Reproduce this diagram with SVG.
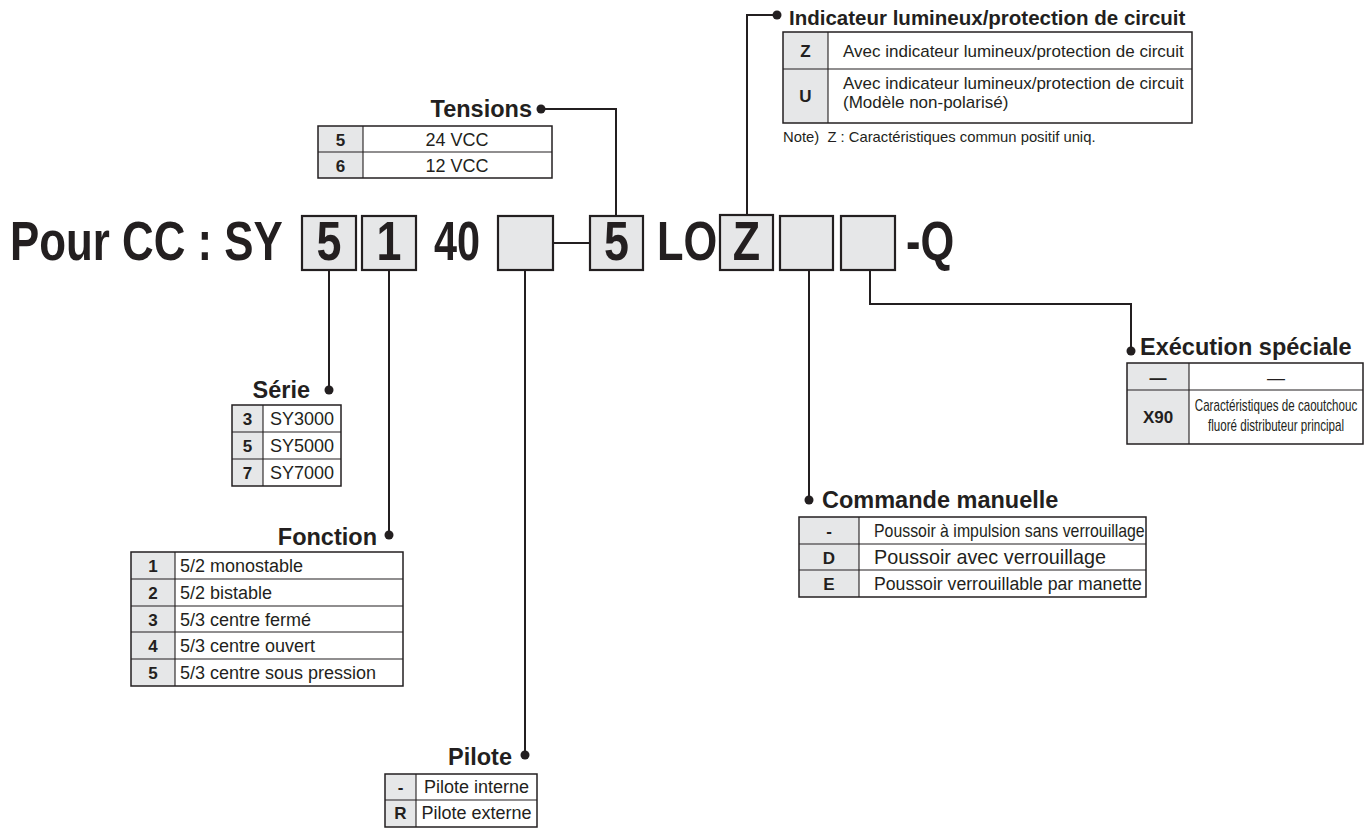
<svg xmlns="http://www.w3.org/2000/svg" width="1372" height="828" viewBox="0 0 1372 828">
<style>
text{font-family:"Liberation Sans",Arial,Helvetica,sans-serif;fill:#231f20}
.t{font-size:56px;font-weight:bold}
.h{font-size:23.5px;font-weight:bold}
.c{font-size:17px;font-weight:bold;text-anchor:middle}
.v{font-size:18px}
.s{font-size:17px}
.m{text-anchor:middle}
.e{text-anchor:end}
.box{fill:#e6e7e8;stroke:#231f20;stroke-width:2.2}
.tb{fill:none;stroke:#231f20;stroke-width:1.5}
.g{fill:#e6e7e8}
.ln{stroke:#231f20;stroke-width:1.1;fill:none}
.cn{stroke:#231f20;stroke-width:2;fill:none}
.dot{fill:#231f20}
</style>
<rect width="1372" height="828" fill="#fff"/>

<g id="connectors">
<path class="cn" d="M616 216V109H541"/>
<circle class="dot" cx="541" cy="109" r="4.5"/>
<path class="cn" d="M747 215V15H777"/>
<circle class="dot" cx="777" cy="15" r="4.5"/>
<path class="cn" d="M329 270V390"/>
<circle class="dot" cx="329" cy="390" r="4.5"/>
<path class="cn" d="M389 270V535"/>
<circle class="dot" cx="389" cy="535" r="4.5"/>
<path class="cn" d="M525 270V755"/>
<circle class="dot" cx="525" cy="755" r="4.5"/>
<path class="cn" d="M809 270V500"/>
<circle class="dot" cx="809" cy="500" r="4.5"/>
<path class="cn" d="M870 270V304H1131V351"/>
<circle class="dot" cx="1131" cy="351" r="4.5"/>
<path class="cn" d="M553 243H590" stroke-width="2.4"/>
</g>

<g id="code">
<text class="t" transform="translate(10,260) scale(0.783,1)">Pour CC : SY</text>
<text class="t" transform="translate(434,260) scale(0.74,1)">40</text>
<text class="t" transform="translate(657,260) scale(0.775,1)">LO</text>
<text class="t" transform="translate(906,260) scale(0.775,1)">-Q</text>
</g>
<g id="box-serie">
<rect class="box" x="302" y="216" width="54" height="54"/>
<text class="t m" transform="translate(329,260) scale(0.8,1)">5</text>
</g>
<g id="box-fonction">
<rect class="box" x="362" y="216" width="54" height="54"/>
<text class="t m" transform="translate(389,260) scale(0.8,1)">1</text>
</g>
<g id="box-pilote">
<rect class="box" x="498" y="216" width="55" height="54"/>
</g>
<g id="box-tension">
<rect class="box" x="590" y="216" width="53" height="54"/>
<text class="t m" transform="translate(616.5,260) scale(0.8,1)">5</text>
</g>
<g id="box-indicateur">
<rect class="box" x="720" y="215" width="53" height="55"/>
<text class="t m" transform="translate(746.5,260) scale(0.8,1)">Z</text>
</g>
<g id="box-commande">
<rect class="box" x="780" y="216" width="53" height="54"/>
</g>
<g id="box-execution">
<rect class="box" x="841" y="216" width="54" height="54"/>
</g>

<g id="tensions">
<text class="h e" x="532" y="117">Tensions</text>
<rect class="g" x="318" y="126" width="45" height="52"/>
<path class="ln" d="M363 126V178M318 152H552"/>
<rect class="tb" x="318" y="126" width="234" height="52"/>
<text class="c" x="340.5" y="146">5</text>
<text class="v m" x="457" y="146">24 VCC</text>
<text class="c" x="340.5" y="172">6</text>
<text class="v m" x="457" y="172">12 VCC</text>
</g>

<g id="indicateur">
<text x="789" y="25" font-size="20.5" font-weight="bold">Indicateur lumineux/protection de circuit</text>
<rect class="g" x="783" y="32" width="45" height="91"/>
<path class="ln" d="M828 32V123M783 69H1192"/>
<rect class="tb" x="783" y="32" width="409" height="91"/>
<text class="c" x="805.5" y="57">Z</text>
<text class="s" x="843" y="57">Avec indicateur lumineux/protection de circuit</text>
<text class="c" x="805.5" y="102">U</text>
<text class="s" x="843" y="89">Avec indicateur lumineux/protection de circuit</text>
<text class="s" x="843" y="108">(Modèle non-polarisé)</text>
<text x="783" y="142" font-size="14.8" xml:space="preserve">Note)  Z : Caractéristiques commun positif uniq.</text>
</g>

<g id="serie">
<text class="h e" x="310" y="398">Série</text>
<rect class="g" x="232" y="405" width="31" height="81"/>
<path class="ln" d="M263 405V486M232 432H341M232 459H341"/>
<rect class="tb" x="232" y="405" width="109" height="81"/>
<text class="c" x="247.5" y="425">3</text>
<text class="v m" x="302" y="425">SY3000</text>
<text class="c" x="247.5" y="452">5</text>
<text class="v m" x="302" y="452">SY5000</text>
<text class="c" x="247.5" y="479">7</text>
<text class="v m" x="302" y="479">SY7000</text>
</g>

<g id="fonction">
<text class="h e" x="377" y="545">Fonction</text>
<rect class="g" x="131" y="552" width="44" height="134"/>
<path class="ln" d="M175 552V686M131 579H403M131 606H403M131 632H403M131 659H403"/>
<rect class="tb" x="131" y="552" width="272" height="134"/>
<text class="c" x="153" y="572">1</text>
<text class="v" x="180" y="572">5/2 monostable</text>
<text class="c" x="153" y="599">2</text>
<text class="v" x="180" y="599">5/2 bistable</text>
<text class="c" x="153" y="626">3</text>
<text class="v" x="180" y="626">5/3 centre fermé</text>
<text class="c" x="153" y="652">4</text>
<text class="v" x="180" y="652">5/3 centre ouvert</text>
<text class="c" x="153" y="679">5</text>
<text class="v" x="180" y="679">5/3 centre sous pression</text>
</g>

<g id="pilote">
<text class="h e" x="512" y="765">Pilote</text>
<rect class="g" x="385" y="774" width="31" height="53"/>
<path class="ln" d="M416 774V827M385 800H537"/>
<rect class="tb" x="385" y="774" width="152" height="53"/>
<text class="c" x="400.5" y="793">-</text>
<text class="v m" x="476.5" y="793">Pilote interne</text>
<text class="c" x="400.5" y="819">R</text>
<text class="v m" x="476.5" y="819">Pilote externe</text>
</g>

<g id="commande">
<text class="h" x="822" y="508" font-size="23.9">Commande manuelle</text>
<rect class="g" x="799" y="517" width="60" height="80"/>
<path class="ln" d="M859 517V597M799 544H1146M799 570H1146"/>
<rect class="tb" x="799" y="517" width="347" height="80"/>
<text class="c" x="829" y="537">-</text>
<text font-size="19" transform="translate(874,537) scale(0.835,1)">Poussoir à impulsion sans verrouillage</text>
<text class="c" x="829" y="564">D</text>
<text x="874" y="564" font-size="19.8">Poussoir avec verrouillage</text>
<text class="c" x="829" y="590">E</text>
<text font-size="19" transform="translate(874,590) scale(0.93,1)">Poussoir verrouillable par manette</text>
</g>

<g id="execution">
<text class="h" x="1140" y="355">Exécution spéciale</text>
<rect class="g" x="1127" y="363" width="62" height="81"/>
<path class="ln" d="M1189 363V444M1127 390H1363"/>
<rect class="tb" x="1127" y="363" width="236" height="81"/>
<text class="c" x="1158" y="384" font-size="19">—</text>
<text class="v m" x="1276" y="384">—</text>
<text class="c" x="1158" y="423">X90</text>
<text class="m" font-size="16" transform="translate(1276,411) scale(0.725,1)">Caractéristiques de caoutchouc</text>
<text class="m" font-size="16" transform="translate(1276,431) scale(0.725,1)">fluoré distributeur principal</text>
</g>
</svg>
